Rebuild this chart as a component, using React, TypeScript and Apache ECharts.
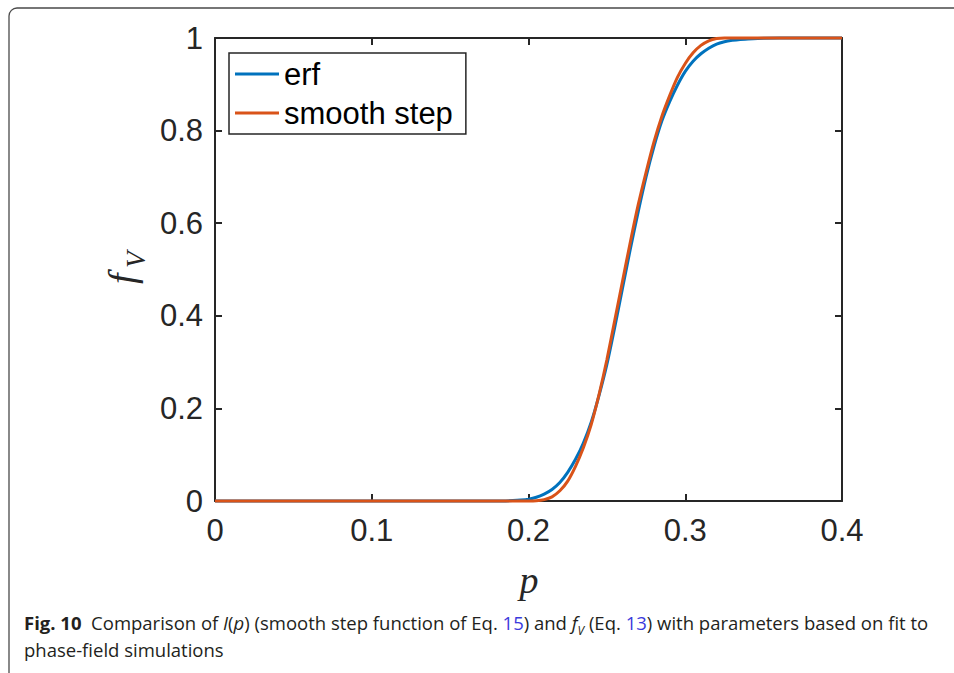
import React, { useEffect, useRef } from 'react';
import * as echarts from 'echarts';

// Sample positions along p (shared by both curves)
const pValues = [
  0, 0.1, 0.15, 0.18, 0.19, 0.195, 0.2, 0.205, 0.21, 0.215, 0.22, 0.225, 0.23,
  0.235, 0.24, 0.245, 0.25, 0.255, 0.26, 0.265, 0.27, 0.275, 0.28, 0.285, 0.29,
  0.295, 0.3, 0.305, 0.31, 0.315, 0.32, 0.325, 0.33, 0.335, 0.34, 0.35, 0.36, 0.4,
];

// f_V from the error-function fit
const erfValues = [
  0, 0, 0, 0, 0.001, 0.002, 0.004, 0.008, 0.015, 0.025, 0.04, 0.062, 0.09,
  0.125, 0.17, 0.228, 0.295, 0.375, 0.46, 0.545, 0.625, 0.7, 0.765, 0.82, 0.862,
  0.898, 0.928, 0.95, 0.966, 0.978, 0.987, 0.992, 0.995, 0.997, 0.998, 0.9995, 1, 1,
];

// I(p), smooth step function
const smoothStepValues = [
  0, 0, 0, 0, 0, 0, 0, 0.0005, 0.003, 0.009, 0.022, 0.043, 0.075,
  0.115, 0.165, 0.23, 0.305, 0.39, 0.475, 0.56, 0.64, 0.71, 0.775, 0.83, 0.875,
  0.915, 0.945, 0.968, 0.984, 0.994, 0.999, 1, 1, 1, 1, 1, 1, 1,
];

const seriesNames = ['erf', 'smooth step'];
const seriesColors = ['#0072BD', '#D95319'];

const xTicks = { min: 0, max: 0.4, interval: 0.1 };
const yTicks = { min: 0, max: 1, interval: 0.2 };

const AXIS_COLOR = '#262626';
const TICK_FONT = "'Liberation Sans', Arial, Helvetica, sans-serif";
const CAPTION_FONT = "'Open Sans', 'Noto Sans', sans-serif";

function toPairs(xs: number[], ys: number[]) {
  return xs.map((x, i) => [x, ys[i]]);
}

function makeXAxis(position: 'bottom' | 'top', labels: boolean) {
  return {
    type: 'value',
    position,
    min: xTicks.min,
    max: xTicks.max,
    interval: xTicks.interval,
    axisLine: { show: true, onZero: false, lineStyle: { color: AXIS_COLOR, width: 2 } },
    axisTick: { show: true, inside: true, length: 7, lineStyle: { color: AXIS_COLOR, width: 2 } },
    axisLabel: {
      show: labels,
      fontSize: 31,
      color: AXIS_COLOR,
      fontFamily: TICK_FONT,
      margin: 14,
    },
    splitLine: { show: false },
  };
}

function makeYAxis(position: 'left' | 'right', labels: boolean) {
  return {
    type: 'value',
    position,
    min: yTicks.min,
    max: yTicks.max,
    interval: yTicks.interval,
    axisLine: { show: true, onZero: false, lineStyle: { color: AXIS_COLOR, width: 2 } },
    axisTick: { show: true, inside: true, length: 7, lineStyle: { color: AXIS_COLOR, width: 2 } },
    axisLabel: {
      show: labels,
      fontSize: 31,
      color: AXIS_COLOR,
      fontFamily: TICK_FONT,
      margin: 12,
    },
    splitLine: { show: false },
  };
}

export default function App() {
  const ref = useRef<HTMLDivElement>(null);

  useEffect(() => {
    if (!ref.current) return;
    const chart = echarts.init(ref.current, null, { renderer: 'svg' });

    const option = {
      animation: false,
      backgroundColor: '#ffffff',
      grid: { left: 215, top: 38, right: 112, bottom: 172 },
      xAxis: [makeXAxis('bottom', true), makeXAxis('top', false)],
      yAxis: [makeYAxis('left', true), makeYAxis('right', false)],
      legend: {
        orient: 'vertical',
        left: 229,
        top: 53,
        data: seriesNames,
        icon: 'rect',
        backgroundColor: '#ffffff',
        borderColor: AXIS_COLOR,
        borderWidth: 1.5,
        borderRadius: 0,
        padding: [4, 13, 4, 6],
        itemWidth: 44,
        itemHeight: 3,
        itemGap: 5,
        textStyle: {
          fontSize: 31,
          lineHeight: 34,
          color: '#000000',
          fontFamily: TICK_FONT,
        },
      },
      series: seriesNames.map((name, i) => ({
        name,
        type: 'line',
        xAxisIndex: 0,
        yAxisIndex: 0,
        data: toPairs(pValues, i === 0 ? erfValues : smoothStepValues),
        smooth: 0.25,
        symbol: 'none',
        clip: false,
        color: seriesColors[i],
        lineStyle: { color: seriesColors[i], width: 3 },
        z: 2 + i,
      })),
      graphic: [
        {
          type: 'rect',
          silent: true,
          z: -10,
          shape: { x: 9, y: 8, width: 1000, height: 720, r: 8 },
          style: { fill: 'none', stroke: '#4a4a4a', lineWidth: 1.3 },
        },
        {
          type: 'group',
          x: 141,
          y: 284,
          rotation: Math.PI / 2,
          children: [
            {
              type: 'text',
              x: 0,
              y: 0,
              style: {
                text: 'f',
                font: "italic 38px 'Liberation Serif', serif",
                fill: AXIS_COLOR,
                align: 'left',
                verticalAlign: 'bottom',
              },
            },
            {
              type: 'text',
              x: 16,
              y: 8,
              style: {
                text: 'V',
                font: "italic 27px 'Liberation Serif', serif",
                fill: AXIS_COLOR,
                align: 'left',
                verticalAlign: 'bottom',
              },
            },
          ],
        },
        {
          type: 'text',
          x: 529,
          y: 580,
          style: {
            text: 'p',
            font: "italic 38px 'Liberation Serif', serif",
            fill: AXIS_COLOR,
            align: 'center',
            verticalAlign: 'middle',
          },
        },
        {
          type: 'text',
          x: 24,
          y: 609,
          style: {
            text:
              '{b|Fig. 10}  Comparison of {i|I}({i|p}) (smooth step function of Eq. {blue|15}) and {i|f}{sub|V} (Eq. {blue|13}) with parameters based on fit to\nphase-field simulations',
            fontFamily: CAPTION_FONT,
            fontSize: 18.5,
            lineHeight: 27,
            fill: '#231f20',
            align: 'left',
            verticalAlign: 'top',
            rich: {
              b: { fontWeight: 'bold', fontFamily: CAPTION_FONT, fontSize: 18.5, lineHeight: 27, fill: '#231f20' },
              i: { fontStyle: 'italic', fontFamily: CAPTION_FONT, fontSize: 18.5, lineHeight: 27, fill: '#231f20' },
              sub: {
                fontStyle: 'italic',
                fontFamily: CAPTION_FONT,
                fontSize: 12,
                lineHeight: 15,
                verticalAlign: 'bottom',
                fill: '#231f20',
              },
              blue: { fontFamily: CAPTION_FONT, fontSize: 18.5, lineHeight: 27, fill: '#3b3bdc' },
            },
          },
        },
      ],
    };

    chart.setOption(option as any);
    return () => chart.dispose();
  }, []);

  return (
    <div
      ref={ref}
      style={{ position: 'absolute', left: 0, top: 0, width: 954, height: 673 }}
    />
  );
}
